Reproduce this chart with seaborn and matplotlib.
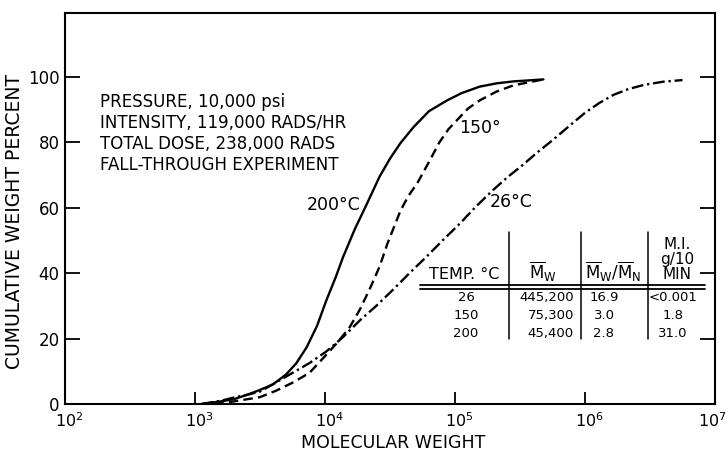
import matplotlib
matplotlib.use("Agg")
import matplotlib.pyplot as plt
import matplotlib.transforms as mtransforms
from matplotlib.lines import Line2D
import seaborn as sns
import pandas as pd

# Cumulative weight distributions (molecular weight, cumulative weight %)
mw_200 = [1.12e3, 1.585e3, 2.0e3, 2.512e3, 3.16e3, 3.981e3, 5.012e3, 6.026e3, 7.24e3,
          8.71e3, 1.02e4, 1.202e4, 1.38e4, 1.698e4, 2.09e4, 2.63e4, 3.162e4, 3.8e4,
          4.79e4, 6.31e4, 8.7e4, 1.122e5, 1.55e5, 2.089e5, 2.82e5, 4.79e5]
pct_200 = [0, 0.8, 1.5, 2.8, 4.3, 6, 9, 12.5, 17.4, 24, 31.5, 38.5, 45, 53.5, 61, 69.5,
           75, 79.7, 84.6, 89.5, 92.8, 95, 97, 98, 98.6, 99.2]

mw_150 = [1.41e3, 1.995e3, 3.16e3, 4.169e3, 5.62e3, 7.59e3, 1.02e4, 1.259e4, 1.55e4,
          1.862e4, 2.24e4, 2.63e4, 3.02e4, 3.388e4, 3.8e4, 4.365e4, 5.13e4, 6.31e4,
          7.59e4, 8.913e4, 1.05e5, 1.259e5, 1.55e5, 2.089e5, 2.82e5, 4.79e5]
pct_150 = [0, 0.8, 2.1, 4, 6.5, 9.5, 15, 19, 23.5, 29, 35.7, 42, 49, 54, 59, 63.5, 67.5,
           74, 80, 84, 87, 90.3, 92.8, 95.5, 97.4, 99.2]

mw_26 = [1.12e3, 1.585e3, 2.0e3, 2.512e3, 3.16e3, 4.169e3, 5.62e3, 7.59e3, 1.02e4,
         1.38e4, 1.86e4, 2.512e4, 3.31e4, 4.467e4, 6.03e4, 8.128e4, 1.1e5, 1.445e5,
         1.95e5, 2.512e5, 3.31e5, 4.266e5, 5.62e5, 7.586e5, 1.0e6, 1.288e6, 1.66e6,
         2.138e6, 2.82e6, 3.981e6, 5.62e6]
pct_26 = [0, 1, 2, 2.8, 3.8, 6.5, 9.5, 12.5, 16, 20.5, 25.6, 30.2, 34.8, 40, 45, 50.2,
          55.3, 60.3, 65.3, 69.2, 73, 76.8, 80.6, 85, 89, 92, 94.5, 96.2, 97.5, 98.5, 99]

series_names = ["200", "150", "26"]
curve_labels = ["200\u00b0C", "150\u00b0", "26\u00b0C"]

x_ticks = [1e2, 1e3, 1e4, 1e5, 1e6, 1e7]
x_tick_labels = [r"$10^{2}$", r"$10^{3}$", r"$10^{4}$", r"$10^{5}$", r"$10^{6}$", r"$10^{7}$"]
y_ticks = [0, 20, 40, 60, 80, 100]

conditions = ["PRESSURE, 10,000 psi",
              "INTENSITY, 119,000 RADS/HR",
              "TOTAL DOSE, 238,000 RADS",
              "FALL-THROUGH EXPERIMENT"]

# Summary table
table_temp = ["26", "150", "200"]
table_mw = ["445,200", "75,300", "45,400"]
table_ratio = ["16.9", "3.0", "2.8"]
table_mi = ["<0.001", "1.8", "31.0"]

df = pd.concat([
    pd.DataFrame({"mw": mw_200, "pct": pct_200, "series": "200"}),
    pd.DataFrame({"mw": mw_150, "pct": pct_150, "series": "150"}),
    pd.DataFrame({"mw": mw_26, "pct": pct_26, "series": "26"}),
])

sns.set_style("ticks")
plt.rcParams["font.family"] = ["DejaVu Sans"]
plt.rcParams["mathtext.default"] = "regular"
for key in ("text.color", "axes.labelcolor", "xtick.color", "ytick.color", "axes.edgecolor"):
    plt.rcParams[key] = "black"

W, H = 728, 454
fig = plt.figure(figsize=(W / 100, H / 100), dpi=100)


def fx(px):
    return px / W


def fy(py):
    return 1 - py / H


ax = fig.add_axes([fx(65), fy(404), (715 - 65) / W, (404 - 13) / H])

sns.lineplot(data=df, x="mw", y="pct", style="series", style_order=series_names,
             dashes={"200": "", "150": (4, 2.2), "26": (5, 1.6, 1, 1.6)},
             color="black", linewidth=1.7, sort=False, estimator=None,
             legend=False, ax=ax)

ax.set_xscale("log")
ax.set_xlim(1e2, 1e7)
ax.set_ylim(0, 119.5)
ax.set_xticks(x_ticks)
ax.set_xticklabels(x_tick_labels, fontsize=11.5)
ax.minorticks_off()
ax.set_yticks(y_ticks)
ax.set_yticklabels([str(v) for v in y_ticks], fontsize=12)
ax.tick_params(axis="y", direction="in", length=11, width=1.3, right=True, pad=4)
ax.tick_params(axis="x", direction="in", length=9, width=1.3, pad=5)
for s in ax.spines.values():
    s.set_visible(True)
    s.set_linewidth(1.5)

# nudge the decade labels so the "10" sits under its tick; keep the last one inside
labels = ax.get_xticklabels()
for k, lab in enumerate(labels):
    dx = -3 if k == len(labels) - 1 else 4
    shift = mtransforms.ScaledTranslation(dx / 100, 0, fig.dpi_scale_trans)
    lab.set_transform(lab.get_transform() + shift)

ax.set_xlabel("")
ax.set_ylabel("")
fig.text(fx(393), fy(443), "MOLECULAR WEIGHT", fontsize=12.5, ha="center", va="center")
fig.text(fx(15), fy(221), "CUMULATIVE WEIGHT PERCENT", fontsize=13.5, rotation=90,
         ha="center", va="center")

# Experimental conditions
for i, line in enumerate(conditions):
    fig.text(fx(100), fy(107 + 21 * i), line, fontsize=12, va="baseline", ha="left")

# Curve labels
fig.text(fx(307), fy(210), curve_labels[0], fontsize=12.5, va="baseline", ha="left")
fig.text(fx(459), fy(133), curve_labels[1], fontsize=12.5, va="baseline", ha="left")
fig.text(fx(490), fy(207), curve_labels[2], fontsize=12.5, va="baseline", ha="left")

# Table header
fig.text(fx(464), fy(279), "TEMP. \u00b0C", fontsize=11.5, ha="center", va="baseline")
fig.text(fx(543), fy(279), r"$\overline{M}_{W}$", fontsize=12, ha="center", va="baseline")
fig.text(fx(613), fy(279), r"$\overline{M}_{W}/\overline{M}_{N}$", fontsize=12,
         ha="center", va="baseline")
for j, line in enumerate(["M.I.", "g/10", "MIN"]):
    fig.text(fx(677), fy(249 + 15 * j), line, fontsize=11, ha="center", va="baseline")

# Table rules
fig.add_artist(Line2D([fx(420), fx(705)], [fy(285), fy(285)], color="black", lw=1.3))
fig.add_artist(Line2D([fx(420), fx(705)], [fy(288.5), fy(288.5)], color="black", lw=1.3))
for xv in (509, 581, 648):
    fig.add_artist(Line2D([fx(xv), fx(xv)], [fy(232), fy(339)], color="black", lw=1.1))

# Table rows
for i in range(len(table_temp)):
    yb = fy(301 + 18 * i)
    fig.text(fx(466), yb, table_temp[i], fontsize=9.5, ha="center", va="baseline")
    fig.text(fx(574), yb, table_mw[i], fontsize=9.5, ha="right", va="baseline")
    fig.text(fx(604), yb, table_ratio[i], fontsize=9.5, ha="center", va="baseline")
    fig.text(fx(673), yb, table_mi[i], fontsize=9.5, ha="center", va="baseline")

fig.savefig("out.png", dpi=100)
